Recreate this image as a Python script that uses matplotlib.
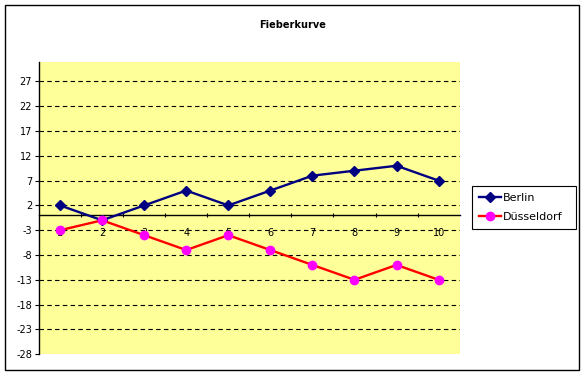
import matplotlib
matplotlib.use('Agg')

import matplotlib.pyplot as plt
import matplotlib.patches as mpatches

# Daten
tage = [1, 2, 3, 4, 5, 6, 7, 8, 9, 10]
berlin = [2, -1, 2, 5, 2, 5, 8, 9, 10, 7]
duesseldorf = [-3, -1, -4, -7, -4, -7, -10, -13, -10, -13]
y_ticks = [-28, -23, -18, -13, -8, -3, 2, 7, 12, 17, 22, 27]

plt.rcParams['font.family'] = ['DejaVu Sans']

fig = plt.figure(figsize=(5.85, 3.78), dpi=100)
ax = fig.add_axes([0.0667, 0.063, 0.719, 0.774])
ax.set_facecolor('#FFFF99')

# Rahmen um das ganze Diagramm
fig.patches.append(mpatches.Rectangle((0.0085, 0.021), 0.982, 0.965, transform=fig.transFigure,
                                      fill=False, edgecolor='black', linewidth=1.0))

ax.plot(tage, berlin, color='#000080', marker='D', markersize=5, linewidth=1.7,
        label='Berlin', zorder=4)
ax.plot(tage, duesseldorf, color='#FF0000', marker='o', markersize=6,
        markerfacecolor='#FF00FF', markeredgecolor='#FF00FF', linewidth=1.7,
        label='Düsseldorf', zorder=4)

ax.set_xlim(0.5, 10.5)
ax.set_ylim(-28, 31)

# Gitternetz
for y in y_ticks[1:]:
    ax.axhline(y, color='black', linestyle=(0, (4, 3)), linewidth=0.8, zorder=1)

# Achsen
for s in ['top', 'right']:
    ax.spines[s].set_visible(False)
ax.spines['bottom'].set_position(('data', 0))
ax.spines['bottom'].set_linewidth(1.0)
ax.spines['left'].set_linewidth(1.0)

ax.set_yticks(y_ticks)
ax.set_yticklabels([str(v) for v in y_ticks], fontsize=7)
ax.tick_params(axis='y', length=3, width=0.8, pad=2)

ax.set_xticks(tage)
ax.set_xticklabels([str(t) for t in tage], fontsize=7)
ax.tick_params(axis='x', which='major', length=0, pad=9)
ax.set_xticks([t + 0.5 for t in tage[:-1]], minor=True)
ax.tick_params(axis='x', which='minor', length=3, width=0.8, direction='inout')

fig.text(0.5, 0.935, 'Fieberkurve', ha='center', va='center', fontsize=7, fontweight='bold')

leg = fig.legend(loc='lower left', bbox_to_anchor=(0.806, 0.393, 0.178, 0.115),
                 mode='expand', fancybox=False, edgecolor='black', framealpha=1,
                 fontsize=8, handlelength=2.0, borderpad=0.65, labelspacing=0.8,
                 handletextpad=0.2, borderaxespad=0)
leg.get_frame().set_linewidth(0.8)

plt.savefig('out.png', dpi=100)
